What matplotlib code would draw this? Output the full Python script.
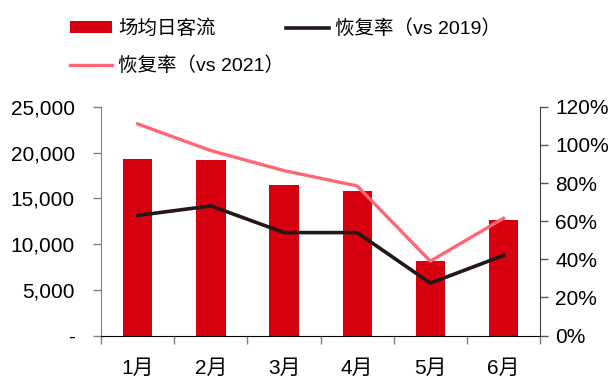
import numpy as np
import matplotlib
matplotlib.use("Agg")
import matplotlib.pyplot as plt
from matplotlib.ticker import FuncFormatter, MultipleLocator, FixedLocator, NullFormatter

plt.rcParams['font.family'] = ['Liberation Sans', 'Noto Sans CJK SC', 'DejaVu Sans']

# ---------------- data ----------------
months = ["1月", "2月", "3月", "4月", "5月", "6月"]
daily_flow = [19300, 19200, 16500, 15800, 8150, 12600]      # 场均日客流
recovery_2019 = [0.63, 0.68, 0.54, 0.54, 0.275, 0.42]       # 恢复率（vs 2019）
recovery_2021 = [1.11, 0.97, 0.865, 0.785, 0.39, 0.615]     # 恢复率（vs 2021）

bar_color = "#D7000F"
black_line = "#231815"
pink_line = "#FF6675"

fig = plt.figure(figsize=(6.13, 3.80), dpi=100)
ax = fig.add_axes([0.165, 0.117, 0.716, 0.602])
ax2 = ax.twinx()

x = np.arange(len(months))
bars = ax.bar(x, daily_flow, width=0.4, color=bar_color, zorder=2)
l1, = ax2.plot(x, recovery_2019, color=black_line, lw=2.6, zorder=3)
l2, = ax2.plot(x, recovery_2021, color=pink_line, lw=2.4, zorder=3)

ax.set_xlim(-0.5, len(months) - 0.5)
ax.set_ylim(0, 25000)
ax2.set_ylim(0, 1.2)

# left axis
ax.yaxis.set_major_locator(MultipleLocator(5000))
ax.yaxis.set_major_formatter(FuncFormatter(lambda v, p: "-" if v == 0 else f"{int(v):,}"))
ax.tick_params(axis='y', direction='out', length=6, width=1, color="#808080",
               labelsize=15, pad=13)

# right axis
ax2.yaxis.set_major_locator(MultipleLocator(0.2))
ax2.yaxis.set_major_formatter(FuncFormatter(lambda v, p: f"{v*100:.0f}%"))
ax2.tick_params(axis='y', direction='out', length=6, width=1, color="#555555",
                labelsize=15, pad=5)

# category axis: ticks on boundaries, labels centred
ax.xaxis.set_major_locator(FixedLocator(np.arange(-0.5, len(months), 1.0)))
ax.xaxis.set_major_formatter(NullFormatter())
ax.xaxis.set_minor_locator(FixedLocator(x))
ax.set_xticklabels(months, minor=True)
ax.tick_params(axis='x', which='major', direction='out', length=6, width=1, color="#808080")
ax.tick_params(axis='x', which='minor', length=0, labelsize=15, pad=17)

for a in (ax, ax2):
    a.spines['top'].set_visible(False)
ax.spines['left'].set_color("#808080")
ax2.spines['left'].set_visible(False)
ax2.spines['bottom'].set_visible(False)
ax2.spines['right'].set_color("#404040")
ax.spines['bottom'].set_color("black")
ax.spines['right'].set_visible(False)

fig.legend([bars, l2, l1],
           ["场均日客流", "恢复率（vs 2021）", "恢复率（vs 2019）"],
           ncol=2, loc='upper left', bbox_to_anchor=(0.085, 0.995),
           frameon=False, fontsize=14, handlelength=2.2, handleheight=0.55,
           handletextpad=0.3, labelspacing=0.95, columnspacing=0.1)

fig.savefig("out.png", dpi=100)
